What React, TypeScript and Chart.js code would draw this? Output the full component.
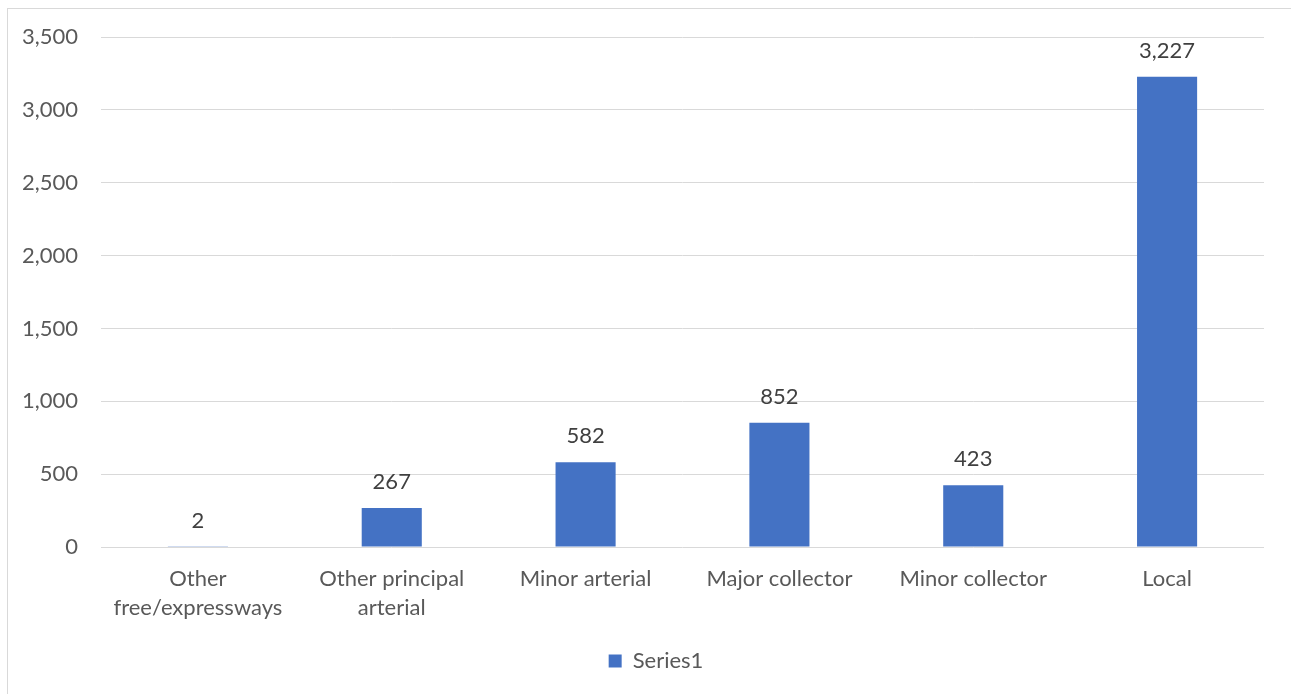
import React, { useEffect, useRef } from "react";
import { Chart, registerables } from "chart.js";

Chart.register(...registerables);

const categories: (string | string[])[] = [
  ["Other", "free/expressways"],
  ["Other principal", "arterial"],
  "Minor arterial",
  "Major collector",
  "Minor collector",
  "Local",
];
const values = [2, 267, 582, 852, 423, 3227];
const seriesName = "Series1";
const yMin = 0;
const yMax = 3500;
const yStep = 500;

const FONT = "Lato, Calibri, 'Open Sans', sans-serif";
const fmt = (v: number) => v.toLocaleString("en-US");

const dataLabelPlugin = {
  id: "dataLabels",
  afterDatasetsDraw(chart: any) {
    const ctx = chart.ctx;
    ctx.save();
    ctx.font = `22px ${FONT}`;
    ctx.fillStyle = "#404040";
    ctx.textAlign = "center";
    ctx.textBaseline = "middle";
    chart.data.datasets.forEach((ds: any, di: number) => {
      const meta = chart.getDatasetMeta(di);
      meta.data.forEach((el: any, i: number) => {
        ctx.fillText(fmt(ds.data[i]), el.x, el.y - 26);
      });
    });
    ctx.restore();
  },
};

// centre the legend on the whole chart box rather than on the padded area
const legendShiftPlugin = {
  id: "legendShift",
  afterLayout(chart: any) {
    const l = chart.legend;
    if (l) {
      l.left += 20;
      l.right += 20;
    }
  },
};

export default function App() {
  const ref = useRef<HTMLCanvasElement>(null);
  useEffect(() => {
    if (!ref.current) return;
    const chart = new Chart(ref.current, {
      type: "bar",
      data: {
        labels: categories,
        datasets: [
          {
            label: seriesName,
            data: values,
            backgroundColor: "#4472C4",
            borderWidth: 0,
            barPercentage: 0.31,
            categoryPercentage: 1,
          },
        ],
      },
      options: {
        responsive: false,
        animation: false,
        devicePixelRatio: 1,
        layout: { padding: { top: 28, right: 42, bottom: 27, left: 0 } },
        plugins: {
          legend: {
            position: "bottom",
            labels: {
              boxWidth: 13,
              boxHeight: 13,
              padding: 10,
              color: "#595959",
              font: { family: FONT, size: 22 },
            },
          },
          tooltip: { enabled: false },
        },
        scales: {
          x: {
            grid: { display: false, drawTicks: false },
            border: { display: false },
            ticks: {
              color: "#595959",
              padding: 17,
              maxRotation: 0,
              autoSkip: false,
              font: { family: FONT, size: 22, lineHeight: "29px" as any },
            },
            afterFit(scale: any) {
              scale.height = 93;
            },
          },
          y: {
            min: yMin,
            max: yMax,
            grid: { color: "#d9d9d9", lineWidth: 1, drawTicks: false },
            border: { display: false },
            ticks: {
              stepSize: yStep,
              color: "#595959",
              padding: 23,
              font: { family: FONT, size: 22 },
              callback: (v: any) => fmt(Number(v)),
            },
            afterFit(scale: any) {
              scale.width = 93;
              scale.paddingTop = 0;
              scale.paddingBottom = 0;
            },
          },
        },
      },
      plugins: [dataLabelPlugin, legendShiftPlugin],
    });
    return () => chart.destroy();
  }, []);

  return (
    <div
      style={{
        position: "fixed",
        left: 7,
        top: 8,
        width: 1300,
        height: 702,
        border: "1px solid #d9d9d9",
        boxSizing: "border-box",
        background: "#fff",
      }}
    >
      <canvas ref={ref} width={1298} height={700} style={{ display: "block" }} />
    </div>
  );
}
